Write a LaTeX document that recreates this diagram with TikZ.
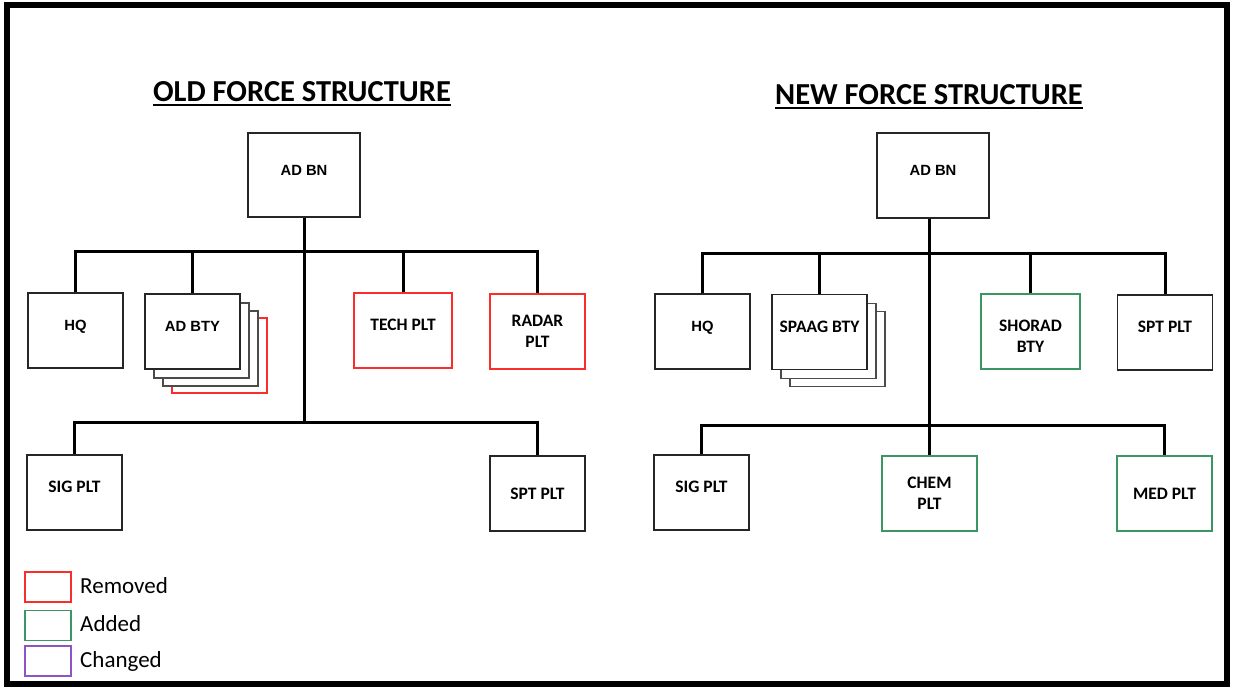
\documentclass[tikz,border=0pt]{standalone}
\usepackage{fontspec}
\setmainfont{Carlito}
\newfontfamily\arialfont{Liberation Sans}
\definecolor{rmred}{RGB}{250,45,45}
\definecolor{addgreen}{RGB}{60,150,100}
\definecolor{chgpurple}{RGB}{140,85,195}
\definecolor{stackgray}{RGB}{75,75,75}
\begin{document}
\begin{tikzpicture}[x=1pt, y=-1pt,
    unit/.style={draw=black!85, line width=1.1pt, fill=white, minimum width=95pt, minimum height=75pt, inner sep=0pt,
                 font=\fontsize{17.5}{21}\selectfont\bfseries, text height=8pt, text depth=8pt},
    arialtxt/.style={font=\arialfont\fontsize{14.8}{17}\selectfont\bfseries},
    midtxt/.style={align=center, text height=, text depth=},
    back/.style={unit, draw=stackgray},
    bus/.style={line width=3pt},
    title/.style={anchor=base, inner sep=0pt, font=\fontsize{30.5}{36}\selectfont\bfseries},
    legbox/.style={draw, line width=1.3pt, minimum width=46pt, minimum height=30pt, inner sep=0pt},
    legtxt/.style={anchor=west, inner sep=0pt, font=\fontsize{23}{26}\selectfont, text height=14pt, text depth=0.5pt}]
    \useasboundingbox (0,0) rectangle (1233,691);
    % Outer frame
    \draw[line width=6pt] (7,5) rectangle (1227,684);

    % Titles
    \node[title] (oldtitle) at (302,101) {OLD FORCE STRUCTURE};
    \draw[line width=2.5pt] ([yshift=-4pt]oldtitle.base west) -- ([yshift=-4pt]oldtitle.base east);
    \node[title] (newtitle) at (929,104) {NEW FORCE STRUCTURE};
    \draw[line width=2.5pt] ([yshift=-4pt]newtitle.base west) -- ([yshift=-4pt]newtitle.base east);

    % Old structure: units
    \node[unit, arialtxt, minimum width=112pt, minimum height=84pt] (oldbn) at (304,175) {AD BN};
    \node[unit, arialtxt] (ohq) at (75.5,330.5) {HQ};
    \node[back, draw=rmred] (oadbty3) at (219.5,355.5) {};
    \node[back] (oadbty2) at (210.5,348.5) {};
    \node[back] (oadbty1) at (201.5,340.5) {};
    \node[unit, arialtxt] (oadbty) at (192.5,331.5) {AD BTY};
    \node[unit, draw=rmred, minimum width=98pt] (otech) at (403,330.5) {TECH PLT};
    \node[unit, draw=rmred, midtxt] (oradar) at (537.5,331.5) {RADAR\\PLT};
    \node[unit] (osig) at (74.5,492.5) {SIG PLT};
    \node[unit, midtxt] (ospt) at (537.5,493.5) {SPT PLT};

    % Old structure: lines
    \coordinate (obusA) at (304,251);
    \coordinate (obusB) at (304,422);
    \draw[bus] (oldbn.south) -- (obusB);
    \draw[bus] (ohq.north) |- (oradar |- obusA) -- (oradar.north);
    \draw[bus] (oadbty |- obusA) -- (oadbty.north);
    \draw[bus] (otech |- obusA) -- (otech.north);
    \draw[bus] (osig.north) |- (ospt |- obusB) -- (ospt.north);

    % New structure: units
    \node[unit, arialtxt, minimum width=112pt, minimum height=85pt] (nbn) at (933,175.5) {AD BN};
    \node[unit, arialtxt] (nhq) at (702.5,331.5) {HQ};
    \node[back] (nspaag2) at (837.5,349) {};
    \node[back] (nspaag1) at (828.5,341) {};
    \node[unit] (nspaag) at (819.5,332) {SPAAG BTY};
    \node[unit, draw=addgreen, minimum width=99pt] (nshorad) at (1030.5,331.5) {};
    \node[unit, draw=none, fill=none, midtxt] (nshoradtxt) at ([yshift=-5pt]nshorad.center) {SHORAD\\BTY};
    \node[unit] (nspt) at (1165,332.5) {SPT PLT};
    \node[unit] (nsig) at (701.5,492.5) {SIG PLT};
    \node[unit, draw=addgreen, midtxt] (nchem) at (929.5,493.5) {CHEM\\PLT};
    \node[unit, draw=addgreen, midtxt] (nmed) at (1164.5,493.5) {MED PLT};

    % New structure: lines
    \coordinate (nbusA) at (930,253);
    \coordinate (nbusB) at (930,425);
    \draw[bus] (nchem |- nbn.south) -- (nchem.north);
    \draw[bus] (nhq.north) |- (nspt |- nbusA) -- (nspt.north);
    \draw[bus] (nspaag |- nbusA) -- (nspaag.north);
    \draw[bus] (nshorad |- nbusA) -- (nshorad.north);
    \draw[bus] (nsig.north) |- (nmed |- nbusB) -- (nmed.north);

    % Legend
    \node[legbox, draw=rmred] (legrm) at (48,587) {};
    \node[legtxt] (legrmtxt) at (80,587) {Removed};
    \node[legbox, draw=addgreen] (legadd) at (48,625.5) {};
    \node[legtxt] (legaddtxt) at (80,625) {Added};
    \node[legbox, draw=chgpurple] (legchg) at (48,661) {};
    \node[legtxt] (legchgtxt) at (80,661) {Changed};
\end{tikzpicture}
\end{document}
